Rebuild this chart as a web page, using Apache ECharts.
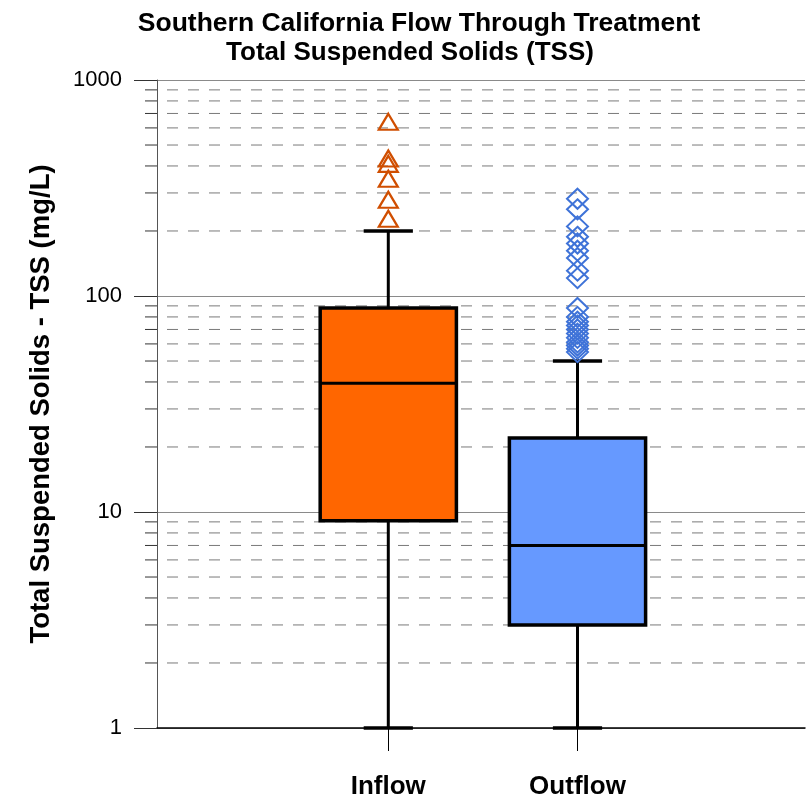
<!DOCTYPE html>
<html>
<head>
<meta charset="utf-8">
<script src="https://cdn.jsdelivr.net/npm/echarts@6/dist/echarts.min.js"></script>
<style>
html,body{margin:0;padding:0;background:#fff;}
#chart{width:809px;height:800px;}
</style>
</head>
<body>
<div id="chart"></div>
<script>
// ---- data ----
const titleLines = ['Southern California Flow Through Treatment', 'Total Suspended Solids (TSS)'];
const categories = ['Inflow', 'Outflow'];
const categoryPositions = [1, 2];
const lowWhisker = [1, 1];
const q1 = [9.1, 3.0];
const median = [39.5, 7.0];
const q3 = [88, 22];
const highWhisker = [200, 50];
const inflowOutliers = [640, 433, 409, 349, 279, 228];
const outflowOutliers = [282, 252, 210, 188, 175, 162, 150, 131, 121, 88, 80, 76, 73, 70, 67, 64, 61, 59, 57, 55];
const minorGridValues = [2, 3, 4, 5, 6, 7, 8, 9, 20, 30, 40, 50, 60, 70, 80, 90, 200, 300, 400, 500, 600, 700, 800, 900];

// ---- style ----
const X_MIN = -0.2225, X_MAX = 3.2025;
const BOX_WIDTH = 0.72, CAP_WIDTH = 0.26;
const boxColors = ['#FF6600', '#6699FF'];
const FONT = 'Liberation Sans, Arial, sans-serif';

const chart = echarts.init(document.getElementById('chart'), null, {renderer: 'canvas'});

const boxData = categories.map((c, i) => [categoryPositions[i], lowWhisker[i], q1[i], median[i], q3[i], highWhisker[i]]);

function renderBox(params, api) {
  const x = api.value(0);
  const idx = params.dataIndex;
  const pLow = api.coord([x, api.value(1)]);
  const pQ1 = api.coord([x, api.value(2)]);
  const pMed = api.coord([x, api.value(3)]);
  const pQ3 = api.coord([x, api.value(4)]);
  const pHigh = api.coord([x, api.value(5)]);
  const unit = api.coord([x + 1, api.value(3)])[0] - pMed[0];
  const hb = unit * BOX_WIDTH / 2;
  const hc = unit * CAP_WIDTH / 2;
  const cx = pMed[0];
  const blk = {stroke: '#000', lineWidth: 3};
  return {
    type: 'group',
    children: [
      {type: 'line', shape: {x1: cx, y1: pLow[1], x2: cx, y2: pQ1[1]}, style: blk},
      {type: 'line', shape: {x1: cx, y1: pQ3[1], x2: cx, y2: pHigh[1]}, style: blk},
      {type: 'line', shape: {x1: cx - hc, y1: pLow[1], x2: cx + hc, y2: pLow[1]}, style: {stroke: '#000', lineWidth: 3.5}},
      {type: 'line', shape: {x1: cx - hc, y1: pHigh[1], x2: cx + hc, y2: pHigh[1]}, style: {stroke: '#000', lineWidth: 3.5}},
      {type: 'rect', shape: {x: cx - hb, y: pQ3[1], width: hb * 2, height: pQ1[1] - pQ3[1]},
        style: {fill: boxColors[idx], stroke: '#000', lineWidth: 3.5}},
      {type: 'line', shape: {x1: cx - hb, y1: pMed[1], x2: cx + hb, y2: pMed[1]}, style: blk}
    ]
  };
}

function renderMinor(params, api) {
  const v = api.value(1);
  const cs = params.coordSys;
  const y = api.coord([X_MIN, v])[1];
  return {
    type: 'group',
    children: [
      {type: 'line', shape: {x1: cs.x - 12, y1: y, x2: cs.x, y2: y}, style: {stroke: '#333', lineWidth: 1}},
      {type: 'line', shape: {x1: cs.x, y1: y, x2: cs.x + cs.width, y2: y},
        style: {stroke: '#7a7a7a', lineWidth: 1, lineDash: [11, 10], lineDashOffset: 11}}
    ]
  };
}

const titleStyle = {fontFamily: FONT, fontWeight: 'bold', color: '#000'};

const option = {
  backgroundColor: '#fff',
  animation: false,
  title: [
    {
      text: titleLines[0],
      left: 414, textAlign: 'center', top: 5,
      textStyle: Object.assign({fontSize: 26.5}, titleStyle)
    },
    {
      text: titleLines[1],
      left: 405, textAlign: 'center', top: 35,
      textStyle: Object.assign({fontSize: 26}, titleStyle)
    }
  ],
  grid: {left: 157, right: 4, top: 80, bottom: 71},
  xAxis: {
    type: 'value',
    min: X_MIN,
    max: X_MAX,
    splitLine: {show: false},
    axisLine: {show: true, onZero: false, lineStyle: {color: '#000', width: 1.5}},
    axisTick: {show: true, customValues: categoryPositions, length: 23, lineStyle: {color: '#000', width: 1}},
    axisLabel: {
      show: true,
      customValues: categoryPositions,
      formatter: v => categories[categoryPositions.indexOf(Math.round(v))] || '',
      fontFamily: FONT, fontSize: 26, fontWeight: 'bold', color: '#000', margin: 46
    }
  },
  yAxis: {
    type: 'log',
    logBase: 10,
    min: 1,
    max: 1000,
    name: 'Total Suspended Solids - TSS (mg/L)',
    nameLocation: 'middle',
    nameRotate: 90,
    nameGap: 102,
    nameMoveOverlap: false,
    nameTextStyle: {fontFamily: FONT, fontSize: 27.5, fontWeight: 'bold', color: '#000'},
    axisLine: {show: true, onZero: false, lineStyle: {color: '#555', width: 1}},
    axisTick: {show: true, length: 23, lineStyle: {color: '#333', width: 1}},
    axisLabel: {fontFamily: FONT, fontSize: 22, color: '#000', margin: 35, formatter: v => String(Math.round(v))},
    splitLine: {show: true, lineStyle: {color: '#8a8a8a', width: 1, type: 'solid'}},
    minorTick: {show: false},
    minorSplitLine: {show: false}
  },
  series: [
    {
      type: 'custom',
      name: 'minorGrid',
      z: 1,
      silent: true,
      renderItem: renderMinor,
      data: minorGridValues.map(v => [X_MIN, v]),
      encode: {x: 0, y: 1}
    },
    {
      type: 'custom',
      name: 'box',
      z: 3,
      renderItem: renderBox,
      data: boxData,
      encode: {x: 0, y: [1, 2, 3, 4, 5]}
    },
    {
      type: 'scatter',
      name: 'Inflow outliers',
      z: 4,
      symbol: 'triangle',
      symbolSize: [19, 16],
      itemStyle: {color: 'rgba(255,255,255,0)', borderColor: '#D04E00', borderWidth: 2.2, opacity: 1},
      data: inflowOutliers.map(v => [categoryPositions[0], v])
    },
    {
      type: 'scatter',
      name: 'Outflow outliers',
      z: 4,
      symbol: 'diamond',
      symbolSize: [21, 20],
      itemStyle: {color: 'rgba(255,255,255,0)', borderColor: '#3F73D8', borderWidth: 2, opacity: 1},
      data: outflowOutliers.map(v => [categoryPositions[1], v])
    }
  ]
};
chart.setOption(option);
</script>
</body>
</html>
